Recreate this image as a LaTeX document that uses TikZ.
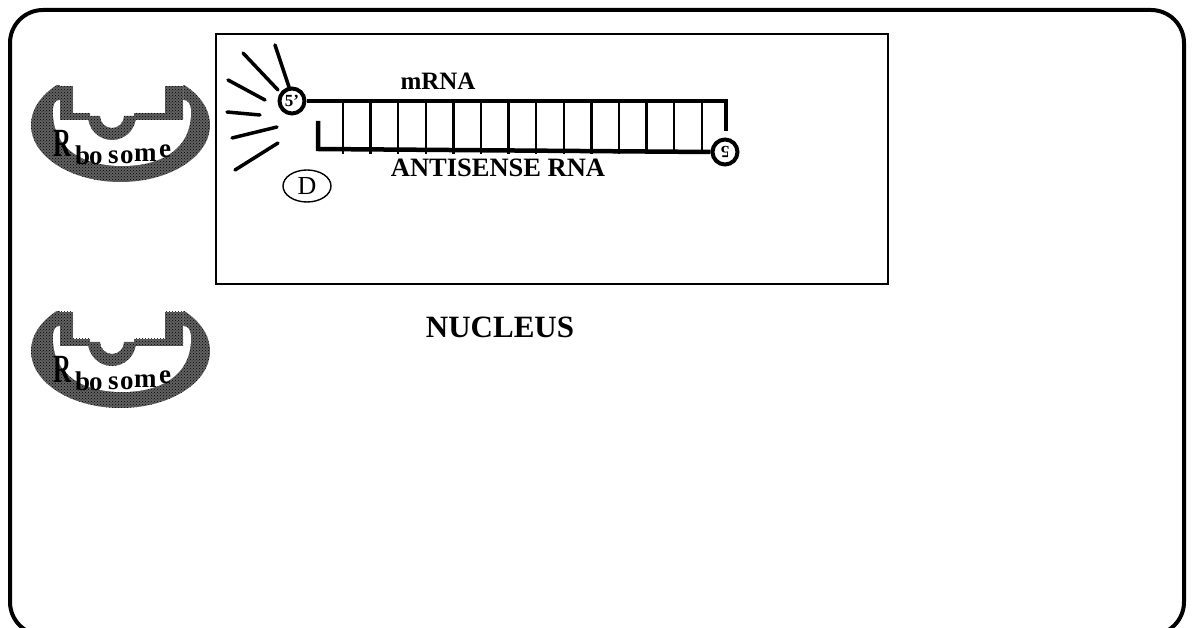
\documentclass[tikz,border=0pt]{standalone}
\usepackage{fontspec}
\setmainfont{Liberation Serif}
\usetikzlibrary{patterns,shapes.geometric}

\tikzset{
	strand/.style={line width=4.5pt},
	rung/.style={line width=2.5pt},
	ray/.style={line width=3.5pt, line cap=round},
	prime/.style={circle, draw, line width=4pt, minimum size=25pt, inner sep=0pt, fill=white, font=\fontsize{17}{17}\selectfont\bfseries},
	ribofill/.style={fill=black!62, postaction={pattern=crosshatch dots, pattern color=black}},
	lbl/.style={font=\fontsize{25}{25}\selectfont\bfseries, inner sep=0pt},
}

\begin{document}
\begin{tikzpicture}[x=1pt, y=-1pt]
		\useasboundingbox (0,0) rectangle (1192,628);
		\clip (0,0) rectangle (1192,628);
		% cell
		\draw[line width=4pt, rounded corners=33pt] (10,10) rectangle (1184,635);
		% nucleus
		\draw[line width=2pt] (216,34) rectangle (888,284);
		\node[font=\fontsize{31}{31}\selectfont\bfseries, anchor=base, inner sep=0pt] (nucleus) at (500,338) {NUCLEUS};

		% two ribosomes in the cytoplasm
		\foreach \dy in {0,226} {
			\begin{scope}[shift={(0,\dy)}]
				\begin{scope}
					\clip (0,86) rectangle (240,200);
					\fill[ribofill] (120.5,125) ellipse [x radius=89.5, y radius=57];
				\end{scope}
				\fill[white] (60,80) -- (60,100) .. controls (55,100) and (53,104) .. (53,112) .. controls (53,150) and (85,166) .. (122,166) .. controls (160,166) and (191,150) .. (191,112) .. controls (191,104) and (188,100) .. (183,100) -- (183,80) -- cycle;
				\fill[ribofill] (60,86) rectangle (73,120);
				\fill[ribofill] (60,113) rectangle (90,120);
				\fill[ribofill] (134,113) rectangle (183,120);
				\fill[ribofill] (165,86) rectangle (183,120);
				\fill[ribofill] (88,116) arc[start angle=180, end angle=0, radius=24] -- (124,116) arc[start angle=0, end angle=180, radius=12] -- cycle;
				\node[anchor=base west, inner sep=0pt, font=\fontsize{40}{40}\selectfont\bfseries] at (53,157) {\scalebox{0.62}[1]{R}};
				\foreach \ch/\xx/\yy in {b/75/165, o/89/165, s/108/164, o/120/164, m/134/162, e/159/158}
					\node[anchor=base west, inner sep=0pt, font=\fontsize{27}{27}\selectfont\bfseries] at (\xx,\yy) {\ch};
			\end{scope}
		}

		% duplex: mRNA on top, antisense RNA below
		\node[prime] (mrna5) at (292,101) {5'};
		\node[prime] (anti5) at (725,152) {\rotatebox{180}{5}};
		\coordinate (mrna3) at (726,131);
		\coordinate (anti3) at (318,121);
		\draw[strand] (mrna5.east) -- (726,101) -- (mrna3);
		\draw[strand] (anti3) -- (318,149) -- (anti5.west);
		\foreach \i in {0,...,13}
			\draw[rung] (343+27.6*\i,101) -- (343+27.6*\i,154);
		\node[lbl, anchor=base] (mrna) at (438,90) {mRNA};
		\node[lbl, anchor=base, font=\fontsize{26.5}{26.5}\selectfont\bfseries] (anti) at (498,177) {ANTISENSE RNA};

		% rays round the 5' end
		\foreach \ax/\ay/\bx/\by in {275/45/289/87, 243/53/278/90, 228/80/265/100, 227/112/260/115, 232/138/277/127, 235/170/278/143}
			\draw[ray] (\ax,\ay) -- (\bx,\by);

		\node[ellipse, draw, line width=1.4pt, minimum width=48pt, minimum height=32pt, inner sep=0pt, font=\fontsize{26}{26}\selectfont] (drug) at (307,186) {D};
	\end{tikzpicture}
\end{document}
